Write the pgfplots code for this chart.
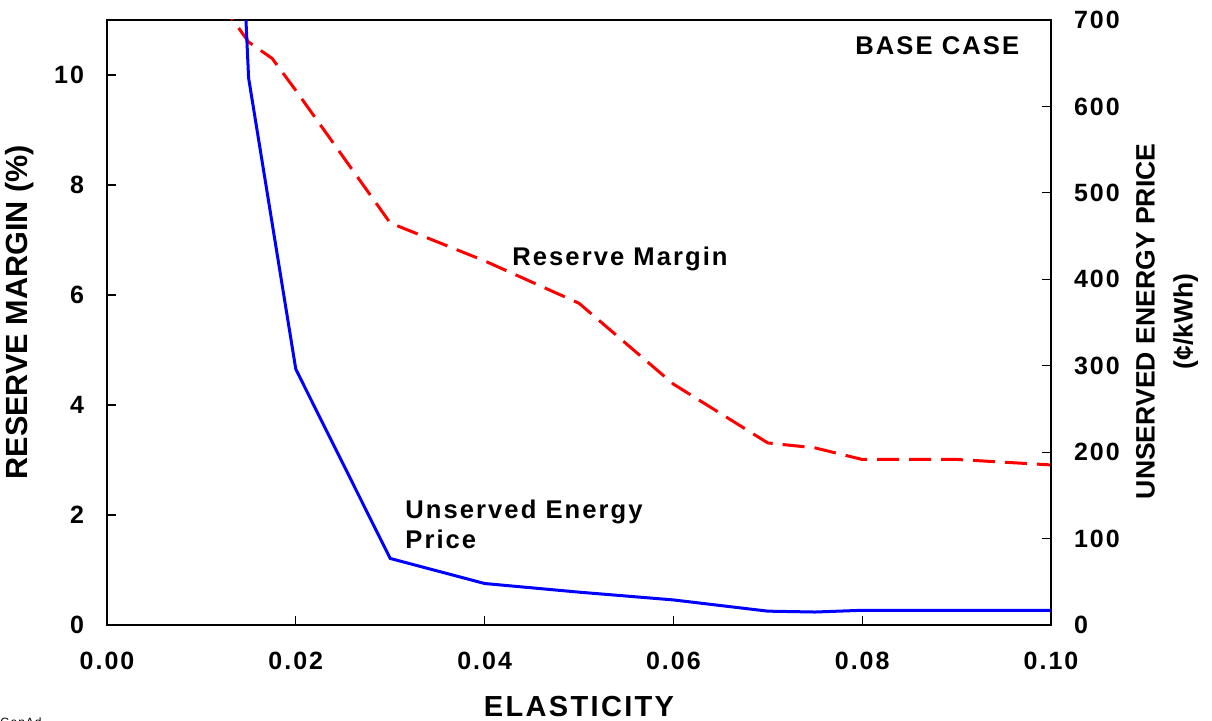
\documentclass[border=0pt]{standalone}
\usepackage{fontspec}
\setmainfont{Liberation Sans}[LetterSpace=8]
\newfontfamily\plainfont{Liberation Sans}
\usepackage{pgfplots}
\pgfplotsset{compat=1.18}
\definecolor{rmred}{RGB}{255,0,0}
\definecolor{ueblue}{RGB}{0,0,255}
\begin{document}
\begin{tikzpicture}
\useasboundingbox (-53.5pt,-48pt) rectangle (552.5pt,312.5pt);
\pgfplotsset{
  every axis/.append style={
    scale only axis, width=472pt, height=302.5pt,
    at={(0,0)}, anchor=south west,
    xmin=0, xmax=0.1,
    tick align=inside,
    major tick length=4.5pt,
    every tick/.style={black, line width=0.6pt},
    axis line style={black, line width=0.7pt},
    tick label style={font=\fontsize{12.5}{15}\selectfont\bfseries},
    /pgf/number format/assume math mode=true,
  }
}
\begin{axis}[
  ymin=0, ymax=11,
  xtick={0,0.02,0.04,0.06,0.08,0.1},
  ytick={0,2,4,6,8,10},
  xtick pos=bottom, ytick pos=left,
  scaled x ticks=false,
  x tick label style={/pgf/number format/fixed, /pgf/number format/fixed zerofill, /pgf/number format/precision=2, yshift=-10pt},
  y tick label style={xshift=-8pt},
  xlabel={ELASTICITY},
  xlabel style={at={(axis description cs:0.5,-0.134)}, anchor=center, font=\fontsize{14.5}{17}\selectfont\bfseries},
  ylabel={RESERVE MARGIN (\%)},
  ylabel style={at={(axis description cs:-0.0922,0.517)}, anchor=center, font=\plainfont\fontsize{15.3}{18}\selectfont\bfseries},
]
\addplot[rmred, line width=1.5pt, dash pattern=on 11pt off 5pt] coordinates {
(0.010,11.8) (0.015,10.6) (0.0175,10.3) (0.020,9.72) (0.030,7.31) (0.040,6.62)
(0.050,5.85) (0.060,4.38) (0.070,3.31) (0.075,3.22) (0.080,3.01) (0.090,3.01) (0.100,2.91)
};
\node[anchor=base west, inner sep=0pt, font=\fontsize{12.8}{15}\selectfont\bfseries] at (axis cs:0.0429,6.545) {Reserve Margin};
\node[anchor=base west, inner sep=0pt, font=\fontsize{12.8}{15}\selectfont\bfseries] at (axis cs:0.03157,1.945) {Unserved Energy};
\node[anchor=base west, inner sep=0pt, font=\fontsize{12.8}{15}\selectfont\bfseries] at (axis cs:0.03157,1.382) {Price};
\node[anchor=base west, inner sep=0pt, font=\fontsize{12.8}{15}\selectfont\bfseries] at (axis cs:0.07924,10.38) {BASE CASE};
\end{axis}
\begin{axis}[
  ymin=0, ymax=700,
  axis x line=none,
  axis y line*=right,
  ytick={0,100,200,300,400,500,600,700},
  y tick label style={xshift=8pt},
  ylabel={UNSERVED ENERGY PRICE\\(¢/kWh)},
  ylabel style={align=center, at={(axis description cs:1.123,0.502)}, anchor=center, font=\plainfont\fontsize{13.3}{19}\selectfont\bfseries},
]
\addplot[ueblue, line width=1.5pt] coordinates {
(0.010,1830) (0.015,633) (0.020,296) (0.030,77) (0.040,48) (0.050,38)
(0.060,29) (0.070,16) (0.075,15) (0.080,17) (0.090,17) (0.100,17)
};
\end{axis}
\node[anchor=base west, inner sep=0pt, font=\fontsize{6}{7}\selectfont] at (-53.5pt,-51pt) {GenAd};
\end{tikzpicture}
\end{document}
